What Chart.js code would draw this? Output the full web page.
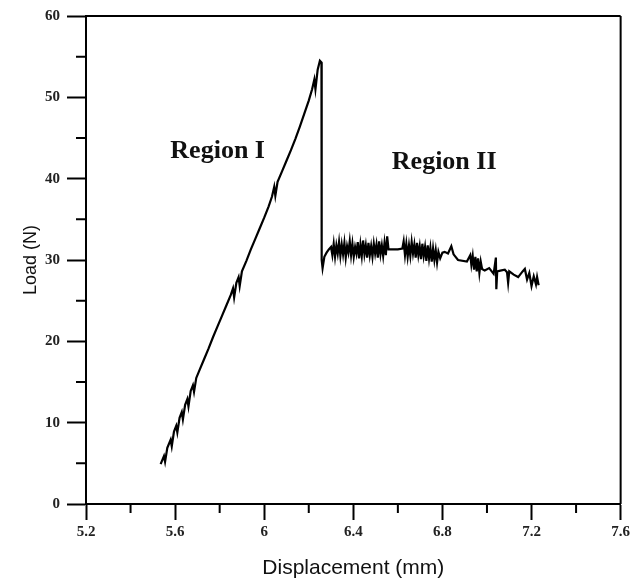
<!DOCTYPE html>
<html>
<head>
<meta charset="utf-8">
<script src="https://cdn.jsdelivr.net/npm/chart.js@4.4.1/dist/chart.umd.min.js"></script>
<style>
html,body{margin:0;padding:0;background:#fff;}
#wrap{width:633px;height:583px;}
</style>
</head>
<body>
<div id="wrap"><canvas id="c" width="633" height="583"></canvas></div>
<script>
// Displacement (mm)
const displacement = [
5.535,5.55,5.555,5.565,5.58,5.585,5.595,5.605,5.61,5.62,5.63,5.635,5.645,5.655,5.66,5.67,5.68,5.685,5.695,5.71,
5.73,5.75,5.77,5.79,5.81,5.83,5.85,5.86,5.865,5.875,5.885,5.89,5.90,5.92,5.94,5.96,5.98,6.00,6.02,6.035,
6.045,6.05,6.06,6.08,6.10,6.12,6.14,6.16,6.18,6.20,6.215,6.225,6.23,6.24,6.25,6.257,6.258,6.262,6.27,6.28,
6.29,6.300,6.306,6.312,6.318,6.324,6.330,6.336,6.342,6.348,6.354,6.360,6.366,6.372,6.378,6.384,6.390,6.396,6.402,6.408,
6.414,6.420,6.426,6.432,6.438,6.444,6.450,6.456,6.462,6.468,6.474,6.480,6.486,6.492,6.498,6.504,6.510,6.516,6.522,6.528,
6.534,6.540,6.546,6.552,6.558,6.600,6.620,6.626,6.632,6.638,6.644,6.650,6.656,6.662,6.668,6.674,6.680,6.686,6.692,6.698,
6.704,6.710,6.716,6.722,6.728,6.734,6.740,6.746,6.752,6.758,6.764,6.770,6.776,6.782,6.790,6.800,6.810,6.825,6.840,6.850,
6.870,6.910,6.925,6.930,6.936,6.942,6.948,6.954,6.960,6.966,6.972,6.978,6.990,7.010,7.030,7.040,7.042,7.046,7.060,7.080,
7.090,7.095,7.100,7.120,7.140,7.160,7.170,7.180,7.190,7.200,7.210,7.220,7.225,7.232
];
// Load (N)
const load = [
4.9,5.9,5.2,6.9,7.9,7.1,8.9,9.6,8.8,10.6,11.3,10.4,12.2,12.9,12.0,13.9,14.6,13.8,15.5,16.5,
17.8,19.1,20.5,21.8,23.1,24.4,25.7,26.5,25.4,27.2,27.9,26.8,28.6,29.9,31.3,32.6,33.9,35.2,36.6,37.8,
39.0,37.9,39.6,40.9,42.2,43.5,44.9,46.4,48.0,49.6,51.0,52.2,51.0,53.4,54.5,54.3,30.0,29.0,30.4,30.9,
31.3,31.6,30.6,32.0,30.4,31.8,30.8,32.2,30.5,31.9,30.7,32.1,30.3,31.7,30.9,32.3,30.6,32.0,30.4,31.6,
30.8,32.2,30.2,31.9,30.5,32.4,30.7,31.8,30.3,32.1,30.6,31.7,30.4,32.0,30.8,31.9,30.3,32.3,30.7,31.8,
30.5,32.1,30.6,32.9,31.3,31.3,31.4,32.3,30.6,32.0,30.4,31.8,30.5,32.2,30.8,31.9,30.3,32.1,30.6,31.7,
30.1,32.0,30.5,31.6,29.9,31.8,30.2,31.5,29.8,31.4,30.0,31.2,29.7,31.0,30.2,30.9,31.0,30.8,31.7,30.7,
30.0,29.8,30.6,29.4,30.5,28.8,30.4,28.6,30.2,28.4,29.8,28.9,28.7,29.0,28.3,30.3,26.4,28.6,28.7,28.8,
28.5,27.2,28.6,28.2,27.9,28.6,28.9,27.6,28.4,26.8,28.0,27.0,27.9,26.9
];
const xMajorTicks = ['5.2','5.6','6','6.4','6.8','7.2','7.6'];
const yMajorTicks = ['0','10','20','30','40','50','60'];
const annotations = [
  {text:'Region I', x:5.791, y:42.6},
  {text:'Region II', x:6.808, y:41.2}
];

const points = displacement.map((d,i)=>({x:d, y:load[i]}));

const tickFont = {family:'"Liberation Serif", serif', size:15, weight:'bold'};

const decor = {
  id:'decor',
  afterDraw(chart){
    const ctx = chart.ctx, a = chart.chartArea;
    const xs = chart.scales.x, ys = chart.scales.y;
    ctx.save();
    ctx.strokeStyle = '#000';
    ctx.lineWidth = 2;
    ctx.beginPath();
    ctx.moveTo(a.left, a.top); ctx.lineTo(a.right, a.top);
    ctx.moveTo(a.right, a.top); ctx.lineTo(a.right, a.bottom);
    ctx.stroke();
    ctx.beginPath();
    xs.ticks.forEach((t,i)=>{
      if(i%2===1){const p = xs.getPixelForValue(t.value); ctx.moveTo(p, a.bottom); ctx.lineTo(p, a.bottom+9);}
    });
    ys.ticks.forEach((t,i)=>{
      if(i%2===1){const p = ys.getPixelForValue(t.value); ctx.moveTo(a.left, p); ctx.lineTo(a.left-10, p);}
    });
    ctx.stroke();
    ctx.fillStyle = '#111';
    ctx.font = 'bold 26px "Liberation Serif", serif';
    ctx.textAlign = 'center';
    ctx.textBaseline = 'alphabetic';
    annotations.forEach(n=>{
      ctx.fillText(n.text, xs.getPixelForValue(n.x), ys.getPixelForValue(n.y));
    });
    ctx.restore();
  }
};

new Chart(document.getElementById('c'), {
  type:'scatter',
  data:{datasets:[{
    data: points,
    showLine:true,
    borderColor:'#000',
    borderWidth:2.2,
    pointRadius:0,
    tension:0,
    fill:false
  }]},
  options:{
    responsive:false,
    animation:false,
    devicePixelRatio:1,
    layout:{padding:{top:15,right:8,left:0,bottom:0}},
    plugins:{legend:{display:false},tooltip:{enabled:false}},
    scales:{
      x:{
        type:'linear', min:5.2, max:7.6,
        afterFit(s){ s.height = 79; },
        border:{display:true,color:'#000',width:2},
        grid:{drawOnChartArea:false, tickLength:16, tickWidth:2,
              tickColor:c=> (c.index%2===0 ? '#000' : 'rgba(0,0,0,0)')},
        ticks:{stepSize:0.2, color:'#222', font:tickFont, padding:3, maxRotation:0, autoSkip:false,
               callback:(v,i)=> i%2===0 ? xMajorTicks[i/2] : ''},
        title:{display:true, text:'Displacement (mm)', color:'#111',
               font:{family:'"Liberation Sans", Arial, sans-serif', size:21}, padding:{top:0,bottom:2}}
      },
      y:{
        type:'linear', min:0, max:60,
        afterFit(s){ s.width = 86; },
        border:{display:true,color:'#000',width:2},
        grid:{drawOnChartArea:false, tickLength:19, tickWidth:2,
              tickColor:c=> (c.index%2===0 ? '#000' : 'rgba(0,0,0,0)')},
        ticks:{stepSize:5, color:'#222', font:tickFont, padding:7, autoSkip:false,
               callback:(v,i)=> i%2===0 ? yMajorTicks[i/2] : ''},
        title:{display:true, text:'Load (N)', color:'#111',
               font:{family:'"Liberation Sans", Arial, sans-serif', size:18}, padding:{top:20,bottom:0}}
      }
    }
  },
  plugins:[decor]
});
</script>
</body>
</html>
